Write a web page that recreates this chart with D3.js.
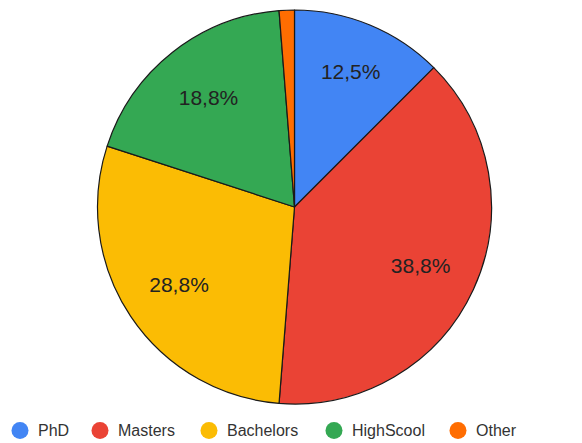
<!DOCTYPE html>
<html>
<head>
<meta charset="utf-8">
<script src="https://cdn.jsdelivr.net/npm/d3@7"></script>
<style>
  html, body { margin: 0; padding: 0; background: #fff; }
  svg { display: block; font-family: Arial, "Liberation Sans", sans-serif; }
</style>
</head>
<body>
<svg id="chart" width="582" height="443"></svg>
<script>
// Education level counts
const categories = ["PhD", "Masters", "Bachelors", "HighScool", "Other"];
const counts = [10, 31, 23, 15, 1];
const colors = ["#4285f4", "#ea4335", "#fbbc04", "#34a853", "#ff6d01"];

const svg = d3.select("#chart");
const cx = 294.5, cy = 207, radius = 197;

const total = d3.sum(counts);
const data = categories.map((c, i) => ({ name: c, value: counts[i], color: colors[i] }));

const pie = d3.pie().sort(null).value(d => d.value);
const arcs = pie(data);
const arc = d3.arc().innerRadius(0).outerRadius(radius);

// Narrow slices push their label further out so it stays inside the wedge
const labelRadius = d => (d.endAngle - d.startAngle) < 0.9 ? radius * 0.745 : radius * 0.705;
const labelPos = d => {
  const a = (d.startAngle + d.endAngle) / 2;
  const r = labelRadius(d);
  return [Math.sin(a) * r, -Math.cos(a) * r];
};

const g = svg.append("g").attr("transform", `translate(${cx},${cy})`);

g.selectAll("path.slice")
  .data(arcs)
  .join("path")
  .attr("class", "slice")
  .attr("d", arc)
  .attr("fill", d => d.data.color)
  .attr("stroke", "#1a1a1a")
  .attr("stroke-width", 1.2)
  .attr("stroke-linejoin", "round");

const fmt = v => (Math.round(v * 1000) / 10).toFixed(1).replace(".", ",") + "%";

g.selectAll("text.pct")
  .data(arcs.filter(d => d.data.value / total >= 0.05))
  .join("text")
  .attr("class", "pct")
  .attr("transform", d => `translate(${labelPos(d)})`)
  .attr("text-anchor", "middle")
  .attr("dy", "0.35em")
  .attr("font-size", 21)
  .attr("fill", "#222")
  .text(d => fmt(d.data.value / total));

// Legend along the bottom
const legendX = [20, 100, 209, 334, 458];
const legend = svg.append("g").attr("transform", "translate(0,430.5)");
const items = legend.selectAll("g.item")
  .data(data)
  .join("g")
  .attr("class", "item")
  .attr("transform", (d, i) => `translate(${legendX[i]},0)`);

items.append("circle")
  .attr("r", 8.5)
  .attr("fill", d => d.color);

items.append("text")
  .attr("x", 18)
  .attr("dy", "0.35em")
  .attr("font-size", 16)
  .attr("fill", "#333")
  .text(d => d.name);
</script>
</body>
</html>
